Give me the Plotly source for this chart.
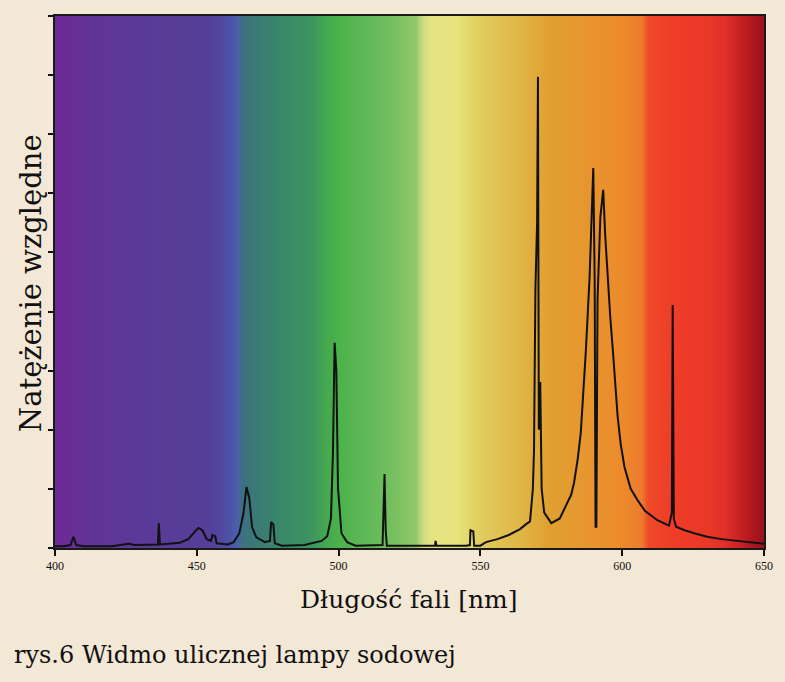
import numpy as np
import plotly.graph_objects as go

# Spectrum of a sodium street lamp (wavelength [nm], relative intensity)
wavelength = [
    400, 403, 405.5, 406.5, 407.5, 410, 420, 424, 426, 428, 433, 436.3, 436.6, 437,
    440, 444, 447, 449, 450.5, 452, 453.5, 455, 455.5, 456.5, 457, 461, 463, 465,
    466.5, 467.5, 468.5, 469.5, 471, 474, 475.8, 476.2, 477, 477.5, 480, 488, 491,
    494, 496, 497.3, 498, 498.6, 499.2, 499.8, 500.3, 501, 503, 506, 515.5, 515.8,
    516.2, 516.6, 517, 530, 534, 534.2, 534.5, 545, 546.3, 546.5, 547.5, 547.8, 550,
    552, 556, 560, 564, 566, 567.5, 568.5, 568.9, 569.4, 570.0, 570.3, 570.6, 571.1,
    571.6, 572.5, 575, 578, 580, 582, 583, 584.3, 585.4, 586.3, 587.2, 588.5, 589.3,
    589.8, 590.3, 590.6, 590.9, 591.3, 592.3, 593.3, 594.0, 594.9, 595.8, 596.7,
    597.5, 598.4, 599.5, 600.8, 603, 605.4, 608, 612.4, 616.5, 617.5, 617.8, 618.2,
    619, 622, 626, 630, 635, 640, 645, 650,
]
intensity = [
    0.03, 0.03, 0.05, 0.19, 0.05, 0.03, 0.03, 0.05, 0.07, 0.05, 0.06, 0.06, 0.42, 0.06,
    0.07, 0.09, 0.15, 0.25, 0.34, 0.30, 0.15, 0.12, 0.22, 0.20, 0.08, 0.06, 0.10, 0.25,
    0.60, 1.03, 0.85, 0.35, 0.18, 0.10, 0.12, 0.44, 0.40, 0.08, 0.04, 0.05, 0.08,
    0.12, 0.20, 0.50, 1.60, 3.47, 3.00, 1.00, 0.70, 0.25, 0.10, 0.04, 0.05, 0.80,
    1.25, 0.30, 0.04, 0.04, 0.04, 0.12, 0.04, 0.04, 0.05, 0.30, 0.28, 0.04, 0.04,
    0.10, 0.15, 0.22, 0.32, 0.40, 0.45, 1.00, 1.65, 4.40, 5.50, 7.97, 2.00, 2.81,
    1.00, 0.60, 0.42, 0.50, 0.70, 0.90, 1.10, 1.50, 1.95, 2.60, 3.35, 4.58, 5.90,
    6.43, 4.50, 0.36, 0.36, 4.20, 5.60, 6.06, 5.30, 4.48, 3.90, 3.35,
    2.80, 2.22, 1.75, 1.37, 1.00, 0.81, 0.63, 0.47, 0.38, 0.60, 4.11, 0.50,
    0.36, 0.30, 0.24, 0.19, 0.15, 0.12, 0.09, 0.07,
]

x_ticks = [400, 450, 500, 550, 600, 650]
y_ticks = [0, 1, 2, 3, 4, 5, 6, 7, 8, 9]

x_title = "Długość fali [nm]"
y_title = "Natężenie względne"
caption = "rys.6 Widmo ulicznej lampy sodowej"

# Background spectrum colours (style)
bg_stops = [
    (400, "#6c2a94"), (404, "#6a2c96"), (410, "#633296"), (420, "#5e3698"),
    (440, "#583c98"), (455, "#544098"), (461, "#4c50a6"), (464, "#4860aa"),
    (466, "#3e7080"), (469, "#3a7878"), (480, "#3a8868"), (490, "#3a9460"),
    (496, "#44aa4c"), (500, "#4cb24a"), (510, "#60b858"), (520, "#78c060"),
    (527, "#90c86a"), (529.5, "#c8dc80"), (532, "#e4e484"), (542, "#e6e47c"),
    (547, "#e2d464"), (552, "#e0c858"), (563, "#e0b848"), (574, "#e0a030"),
    (585, "#e69830"), (600, "#ec8a2c"), (607, "#ee7a2e"), (609, "#ee4a28"),
    (618, "#ee3c28"), (630, "#ea3828"), (636, "#e0302a"), (642, "#c42020"),
    (647, "#a81420"), (650, "#981020"),
]
colorscale = [[(w - 400) / 250.0, c] for w, c in bg_stops]
grid = np.arange(400, 650.01, 0.5)

fig = go.Figure()
fig.add_trace(go.Heatmap(
    x=grid, y=[0, 9], z=[grid, grid], zmin=400, zmax=650,
    colorscale=colorscale, showscale=False, zsmooth="best", hoverinfo="skip",
))
fig.add_trace(go.Scatter(
    x=wavelength, y=intensity, mode="lines",
    line=dict(color="#111111", width=2), showlegend=False,
))

serif = "DejaVu Serif"
tick_serif = "Liberation Serif"
fig.update_layout(
    width=785, height=682,
    margin=dict(l=55, r=18, t=16, b=134),
    paper_bgcolor="#f3e7d5", plot_bgcolor="#f3e7d5",
    font=dict(family=serif, color="#111111"),
    showlegend=False,
    annotations=[
        dict(text=x_title, xref="paper", yref="paper", x=0.4986, y=-0.0977,
             xanchor="center", yanchor="middle", showarrow=False,
             font=dict(family=serif, size=25, color="#111111")),
        dict(text=y_title, xref="paper", yref="paper", x=-0.0337, y=0.498,
             xanchor="center", yanchor="middle", showarrow=False, textangle=-90,
             font=dict(family=serif, size=29, color="#111111")),
        dict(text=caption, xref="paper", yref="paper", x=-0.0604, y=-0.201,
             xanchor="left", yanchor="middle", showarrow=False,
             font=dict(family=serif, size=24, color="#111111")),
    ],
)
fig.update_xaxes(
    range=[400, 650], tickvals=x_ticks, ticktext=[str(t) for t in x_ticks],
    ticks="outside", ticklen=6, tickcolor="#111111", tickwidth=1.5,
    tickfont=dict(family=tick_serif, size=12),
    showgrid=False, zeroline=False,
    showline=True, linecolor="#1a1a1a", linewidth=2, mirror=True,
)
fig.update_yaxes(
    range=[0, 9], tickvals=y_ticks, showticklabels=False,
    ticks="outside", ticklen=5, tickcolor="#111111", tickwidth=1.5,
    showgrid=False, zeroline=False,
    showline=True, linecolor="#1a1a1a", linewidth=2, mirror=True,
)

fig.write_html("out.html")
